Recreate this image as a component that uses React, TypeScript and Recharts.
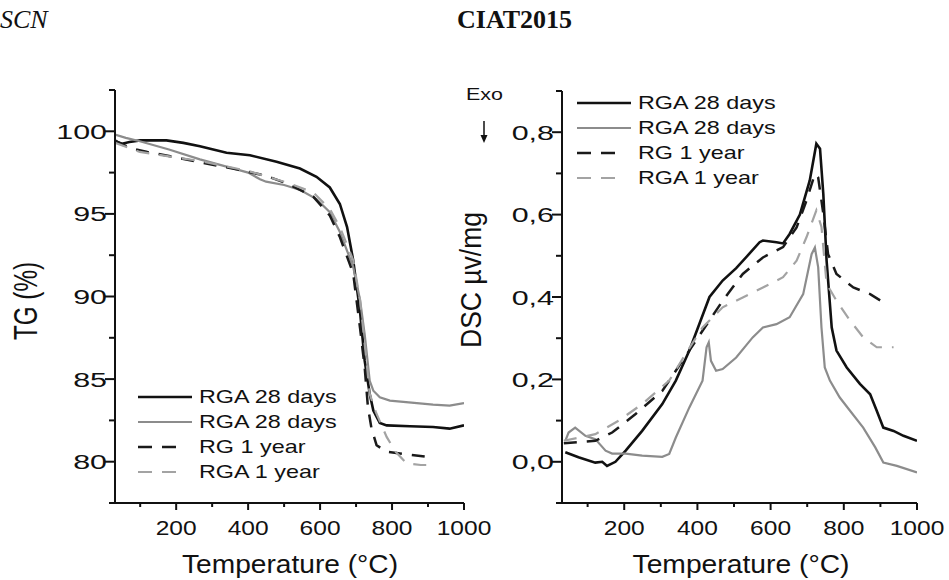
import React from "react";
import { Legend, Line, LineChart, XAxis, YAxis } from "recharts";

// TG curves: temperature (°C) and mass (%)
const tgBlackT = [30, 50, 70, 100, 173, 220, 266, 340, 405, 479, 544, 590, 627, 655, 675, 692, 711, 724, 738, 748, 766, 785, 850, 914, 960, 1000];
const tgBlackV = [99.4, 99.25, 99.35, 99.45, 99.45, 99.3, 99.1, 98.7, 98.55, 98.15, 97.75, 97.25, 96.6, 95.6, 94.2, 92.2, 89.1, 86.1, 84.1, 83.1, 82.35, 82.2, 82.15, 82.1, 82.0, 82.2];
const tgGreyT = [30, 60, 99, 180, 266, 350, 400, 433, 450, 500, 545, 590, 627, 655, 692, 711, 724, 738, 748, 766, 794, 914, 960, 1000];
const tgGreyV = [99.8, 99.6, 99.4, 98.9, 98.3, 97.8, 97.5, 97.1, 96.95, 96.75, 96.45, 95.9, 95.1, 93.9, 91.8, 89.8, 87.7, 84.9, 84.3, 83.9, 83.7, 83.45, 83.4, 83.55];
const tgBlackDashT = [30, 50, 80, 120, 180, 250, 320, 390, 450, 507, 581, 627, 655, 692, 711, 724, 733, 743, 757, 785, 822, 896];
const tgBlackDashV = [99.45, 99.2, 98.95, 98.75, 98.5, 98.2, 97.9, 97.6, 97.3, 96.85, 96.05, 94.9, 93.6, 91.4, 88.1, 85.7, 83.3, 82.0, 81.0, 80.6, 80.5, 80.3];
const tgGreyDashT = [30, 99, 266, 400, 507, 581, 627, 655, 692, 711, 729, 738, 755, 785, 810, 840, 880, 914];
const tgGreyDashV = [99.3, 98.75, 98.2, 97.6, 96.9, 96.3, 95.3, 94.2, 92.2, 89.8, 86.1, 84.1, 83.0, 81.5, 80.6, 79.9, 79.8, 79.8];

// DSC curves: temperature (°C) and heat flow (µV/mg)
const dscBlackT = [39, 75, 121, 140, 153, 176, 204, 249, 304, 341, 378, 405, 433, 469, 506, 542, 570, 579, 616, 634, 652, 680, 707, 725, 735, 744, 753, 767, 780, 808, 844, 872, 890, 908, 936, 963, 1000];
const dscBlackV = [0.023, 0.011, -0.002, 0.0, -0.01, 0.0, 0.027, 0.075, 0.14, 0.197, 0.27, 0.334, 0.4, 0.44, 0.47, 0.505, 0.533, 0.537, 0.533, 0.53, 0.553, 0.6, 0.683, 0.772, 0.76, 0.65, 0.488, 0.326, 0.27, 0.229, 0.189, 0.164, 0.124, 0.083, 0.075, 0.063, 0.051];
const dscGreyT = [39, 48, 66, 94, 121, 149, 167, 204, 249, 304, 323, 341, 378, 414, 425, 431, 437, 451, 469, 506, 551, 579, 616, 652, 689, 712, 721, 730, 739, 748, 762, 789, 817, 853, 886, 908, 945, 1000];
const dscGreyV = [0.051, 0.071, 0.083, 0.063, 0.055, 0.027, 0.02, 0.02, 0.015, 0.012, 0.019, 0.059, 0.132, 0.197, 0.278, 0.29, 0.245, 0.221, 0.225, 0.253, 0.302, 0.326, 0.334, 0.351, 0.407, 0.504, 0.52, 0.472, 0.326, 0.229, 0.197, 0.156, 0.124, 0.083, 0.035, -0.002, -0.01, -0.026];
const dscBlackDashT = [35, 121, 167, 231, 304, 359, 414, 469, 524, 579, 634, 671, 698, 721, 730, 744, 757, 780, 826, 872, 908];
const dscBlackDashV = [0.045, 0.051, 0.071, 0.116, 0.172, 0.245, 0.318, 0.391, 0.456, 0.496, 0.521, 0.569, 0.634, 0.699, 0.69, 0.602, 0.504, 0.456, 0.423, 0.407, 0.387];
const dscGreyDashT = [35, 121, 185, 249, 323, 368, 414, 469, 524, 579, 634, 671, 698, 725, 739, 753, 780, 817, 853, 890, 936];
const dscGreyDashV = [0.051, 0.067, 0.1, 0.14, 0.197, 0.262, 0.326, 0.375, 0.399, 0.423, 0.448, 0.488, 0.545, 0.61, 0.57, 0.432, 0.391, 0.343, 0.302, 0.278, 0.278];

const legendNames = ["RGA 28 days", "RGA 28 days", "RG 1 year", "RGA 1 year"];
const xTicks = [100, 200, 300, 400, 500, 600, 700, 800, 900, 1000];
const tgTicks = [77.5, 80, 82.5, 85, 87.5, 90, 92.5, 95, 97.5, 100, 102.5];
const dscTicks = [-0.1, 0, 0.1, 0.2, 0.3, 0.4, 0.5, 0.6, 0.7, 0.8, 0.9];

const zip = (t: number[], v: number[]) => t.map((x, i) => ({ t: x, v: v[i] }));

const styles = [
  { stroke: "#111", width: 2.6, dash: undefined },
  { stroke: "#8c8c8c", width: 2.2, dash: undefined },
  { stroke: "#1a1a1a", width: 2.5, dash: "13 10" },
  { stroke: "#a3a3a3", width: 2.2, dash: "13 10" },
];

const FONT = "'Liberation Sans', Arial, sans-serif";

function XTick(props: any) {
  const { x, payload, axisY } = props;
  const major = payload.value % 200 === 0;
  return (
    <g>
      <line x1={x} x2={x} y1={axisY} y2={axisY + (major ? 7 : 4)} stroke="#111" strokeWidth={2} />
      {major && (
        <g transform={`translate(${x},${axisY + 32}) scale(1.17,1)`}>
          <text x={0} y={0} textAnchor="middle" style={{ fontSize: 21, fontFamily: FONT }} fill="#111">
            {payload.value}
          </text>
        </g>
      )}
    </g>
  );
}

function YTick(props: any) {
  const { y, payload, axisX, isMajor, fmt } = props;
  const major = isMajor(payload.value);
  return (
    <g>
      <line x1={axisX} x2={axisX - (major ? 10 : 6)} y1={y} y2={y} stroke="#111" strokeWidth={2} />
      {major && (
        <g transform={`translate(${axisX - 8},${y + 7.5}) scale(1.45,1)`}>
          <text x={0} y={0} textAnchor="end" style={{ fontSize: 21, fontFamily: FONT }} fill="#111">
            {fmt(payload.value)}
          </text>
        </g>
      )}
    </g>
  );
}

function LegendBox() {
  return (
    <svg width={260} height={110}>
      {legendNames.map((name, i) => {
        const s = styles[i];
        const y = 17 + i * 25;
        return (
          <g key={i}>
            <line x1={8} x2={s.dash ? 46 : 62} y1={y} y2={y} stroke={s.stroke} strokeWidth={s.width} strokeDasharray={s.dash ? "14 10" : undefined} />
            <text transform={`translate(69,${y}) scale(1.23,1)`} dominantBaseline="central" fontSize={19} fontFamily={FONT} fill="#111">
              {name}
            </text>
          </g>
        );
      })}
    </svg>
  );
}

const tgSeries = [
  zip(tgBlackT, tgBlackV),
  zip(tgGreyT, tgGreyV),
  zip(tgBlackDashT, tgBlackDashV),
  zip(tgGreyDashT, tgGreyDashV),
];
const dscSeries = [
  zip(dscBlackT, dscBlackV),
  zip(dscGreyT, dscGreyV),
  zip(dscBlackDashT, dscBlackDashV),
  zip(dscGreyDashT, dscGreyDashV),
];

function Panel(props: any) {
  const { width, yWidth, top, right, series, domain, ticks, isMajor, fmt, legendPos } = props;
  return (
    <LineChart width={width} height={580} margin={{ top, right, bottom: 0, left: 0 }}>
      <XAxis
        dataKey="t"
        type="number"
        domain={[30, 1000]}
        ticks={xTicks}
        allowDataOverflow
        height={77}
        axisLine={{ stroke: "#111", strokeWidth: 2 }}
        tickLine={false}
        tick={(p: any) => <XTick {...p} axisY={503} />}
        interval={0}
      />
      <YAxis
        dataKey="v"
        type="number"
        domain={domain}
        ticks={ticks}
        allowDataOverflow
        width={yWidth}
        axisLine={{ stroke: "#111", strokeWidth: 2 }}
        tickLine={false}
        tick={(p: any) => <YTick {...p} axisX={yWidth} isMajor={isMajor} fmt={fmt} />}
        interval={0}
      />
      <Legend
        layout="vertical"
        align="center"
        verticalAlign="middle"
        wrapperStyle={{ left: legendPos[0], top: legendPos[1], width: 260, height: 110 }}
        content={() => <LegendBox />}
      />
      {series.map((d: any[], i: number) => (
        <Line
          key={i}
          data={d}
          dataKey="v"
          name={legendNames[i]}
          type="linear"
          stroke={styles[i].stroke}
          strokeWidth={styles[i].width}
          strokeDasharray={styles[i].dash}
          dot={false}
          isAnimationActive={false}
        />
      ))}
    </LineChart>
  );
}

export default function App() {
  return (
    <div style={{ position: "absolute", left: 0, top: 0, width: 949, height: 580, background: "#fff", overflow: "hidden" }}>
      <div style={{ position: "absolute", left: 0, top: 0 }}>
        <Panel
          width={520}
          yWidth={115}
          top={90}
          right={56}
          series={tgSeries}
          domain={[77.5, 102.5]}
          ticks={tgTicks}
          isMajor={(v: number) => v % 5 === 0}
          fmt={(v: number) => String(v)}
          legendPos={[130, 380]}
        />
      </div>
      <div style={{ position: "absolute", left: 480, top: 0 }}>
        <Panel
          width={469}
          yWidth={82}
          top={91}
          right={32}
          series={dscSeries}
          domain={[-0.1, 0.9]}
          ticks={dscTicks}
          isMajor={(v: number) => Math.round(v * 10) % 2 === 0}
          fmt={(v: number) => v.toFixed(1).replace(".", ",")}
          legendPos={[89, 86]}
        />
      </div>
      <svg width={949} height={580} style={{ position: "absolute", left: 0, top: 0, pointerEvents: "none" }}>
        <text x={0} y={28} fontSize={26} fontStyle="italic" fontFamily="'Liberation Serif', serif" fill="#111">SCN</text>
        <text x={457} y={28} fontSize={26} fontWeight="bold" fontFamily="'Liberation Serif', serif" fill="#111">CIAT2015</text>
        <text x={290} y={573} textAnchor="middle" fontSize={25} fontFamily={FONT} fill="#111" textLength={216} lengthAdjust="spacingAndGlyphs">Temperature (°C)</text>
        <text x={741} y={573} textAnchor="middle" fontSize={25} fontFamily={FONT} fill="#111" textLength={217} lengthAdjust="spacingAndGlyphs">Temperature (°C)</text>
        <text transform="translate(37,301) rotate(-90) scale(1,1.35)" textAnchor="middle" fontSize={24} fontFamily={FONT} fill="#111" textLength={78} lengthAdjust="spacingAndGlyphs">TG (%)</text>
        <text transform="translate(481,280) rotate(-90) scale(1,1.3)" textAnchor="middle" fontSize={23} fontFamily={FONT} fill="#111" textLength={136} lengthAdjust="spacingAndGlyphs">DSC µv/mg</text>
        <text x={466} y={100} fontSize={17} fontFamily={FONT} fill="#111" textLength={37} lengthAdjust="spacingAndGlyphs">Exo</text>
        <line x1={484} x2={484} y1={121} y2={138} stroke="#111" strokeWidth={1.5} />
        <path d="M480.5,135 L484,143 L487.5,135 Z" fill="#111" />
      </svg>
    </div>
  );
}
